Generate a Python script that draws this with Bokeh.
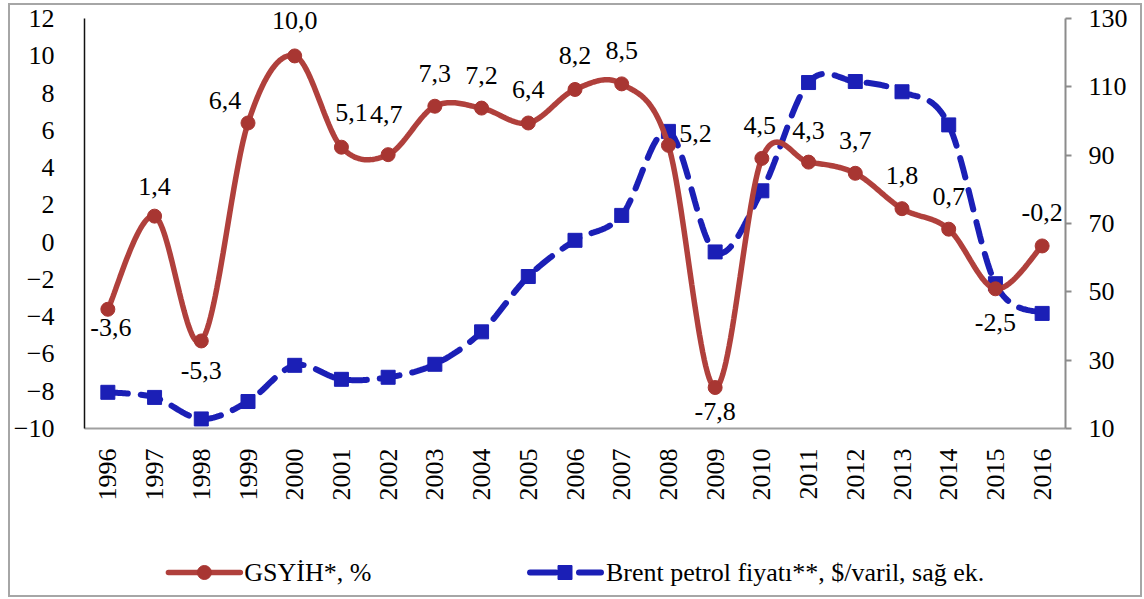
import numpy as np
from bokeh.plotting import figure
from bokeh.layouts import column
from bokeh.models import Range1d, LinearAxis, FixedTicker, ColumnDataSource
from bokeh.core.properties import value
from bokeh.embed import file_html
from bokeh.resources import INLINE

years = list(range(1996, 2017))
gdp = [-3.6, 1.4, -5.3, 6.4, 10.0, 5.1, 4.7, 7.3, 7.2, 6.4, 8.2, 8.5, 5.2, -7.8, 4.5, 4.3, 3.7, 1.8, 0.7, -2.5, -0.2]
brent = [20.6, 19.1, 12.8, 17.9, 28.5, 24.4, 25.0, 28.8, 38.3, 54.5, 65.1, 72.4, 97.0, 61.7, 79.6, 111.3, 111.6, 108.6, 98.9, 52.4, 43.7]
left_ticks = list(range(-10, 13, 2))
right_ticks = list(range(10, 131, 20))
gdp_name = "GSYİH*, %"
brent_name = "Brent petrol fiyatı**, $/varil, sağ ek."

# label offsets (screen px) for the data labels
lab_dx = [3, 0, 0, -23, 0, 10, -2, 0, 0, 0, 0, 0, 27, 0, -2, 0, 0, 0, 0, 0, 0]
lab_dy = [18, -30, 30, -22, -35, -35, -40, -33, -33, -33, -34, -33, -12, 24, -33, -32, -33, -33, -33, 34, -33]

RED = "#B0403C"
RED_M = "#A83632"
BLUE = "#1B1FB6"
FONT = "Liberation Serif"
FS = "26px"

# visible span of the axes and a small headroom so top labels are not clipped
L_LO, L_HI, L_TOP = -10, 12, 12.6
R_LO, R_HI = 10, 130
R_TOP = R_HI + (L_TOP - L_HI) * (R_HI - R_LO) / (L_HI - L_LO)

W = 1130
BL, BR = 73, 75


def smooth(xs, ys, n=30):
    xs = np.asarray(xs, float)
    ys = np.asarray(ys, float)
    m = len(xs)
    ox, oy = [], []
    for i in range(m - 1):
        i0 = max(i - 1, 0)
        i3 = min(i + 2, m - 1)
        p0 = np.array([xs[i0], ys[i0]])
        p1 = np.array([xs[i], ys[i]])
        p2 = np.array([xs[i + 1], ys[i + 1]])
        p3 = np.array([xs[i3], ys[i3]])
        c1 = p1 + (p2 - p0) / 6.0
        c2 = p2 - (p3 - p1) / 6.0
        t = np.linspace(0, 1, n, endpoint=(i == m - 2))
        b = ((1 - t) ** 3)[:, None] * p1 + (3 * (1 - t) ** 2 * t)[:, None] * c1 \
            + (3 * (1 - t) * t ** 2)[:, None] * c2 + (t ** 3)[:, None] * p2
        ox.extend(b[:, 0])
        oy.extend(b[:, 1])
    return ox, oy


p = figure(width=W, height=498, output_backend="svg", toolbar_location=None,
           x_range=Range1d(1995.5, 2016.5), y_range=Range1d(L_LO, L_TOP),
           min_border_left=BL, min_border_right=BR, min_border_top=2, min_border_bottom=75)
p.extra_y_ranges = {"right": Range1d(R_LO, R_TOP)}
p.outline_line_color = None
p.xgrid.visible = False
p.ygrid.visible = False
p.background_fill_color = "white"
p.border_fill_color = "white"

# axes
xa = p.xaxis[0]
xa.ticker = FixedTicker(ticks=years)
xa.major_label_orientation = np.pi / 2
xa.major_tick_line_color = None
xa.minor_tick_line_color = None
xa.axis_line_color = "#A0A0A0"
xa.axis_line_width = 2
xa.major_label_standoff = 14
xa.major_label_text_font = FONT
xa.major_label_text_font_size = FS
xa.major_label_text_color = "black"

ya = p.yaxis[0]
ya.bounds = (L_LO, L_HI)
ya.ticker = FixedTicker(ticks=left_ticks)
ya.major_tick_line_color = None
ya.minor_tick_line_color = None
ya.axis_line_color = "#111111"
ya.axis_line_width = 1.5
ya.major_label_standoff = 24
ya.major_label_text_font = FONT
ya.major_label_text_font_size = FS
ya.major_label_text_color = "black"

ra = LinearAxis(y_range_name="right", ticker=FixedTicker(ticks=right_ticks), bounds=(R_LO, R_HI))
ra.axis_line_color = "#8C8C8C"
ra.axis_line_width = 2
ra.major_tick_line_color = "#8C8C8C"
ra.major_tick_line_width = 2
ra.major_tick_out = 6
ra.major_tick_in = 0
ra.minor_tick_line_color = None
ra.major_label_standoff = 17
ra.major_label_text_font = FONT
ra.major_label_text_font_size = FS
ra.major_label_text_color = "black"
p.add_layout(ra, "right")

# brent series (right axis)
bx, by = smooth(years, brent)
p.line(bx, by, y_range_name="right", line_color=BLUE, line_width=6,
       line_dash="20 13", line_cap="round")
p.scatter(years, brent, y_range_name="right", marker="square", size=14,
          fill_color=BLUE, line_color=BLUE)

# gdp series
gx, gy = smooth(years, gdp)
p.line(gx, gy, line_color=RED, line_width=5.5, line_cap="round")
p.scatter(years, gdp, marker="circle", size=14, fill_color=RED_M, line_color=RED_M)

labels = [f"{v:.1f}".replace(".", ",") for v in gdp]
src = ColumnDataSource(dict(x=years, y=gdp, t=labels, dx=lab_dx, dy=lab_dy))
p.text(x="x", y="y", text="t", x_offset="dx", y_offset="dy", source=src,
       text_align="center", text_baseline="middle", text_color="black",
       text_font=value(FONT), text_font_size=FS)

# legend strip (pixel coordinates; its frame is aligned with the chart frame)
q = figure(width=W, height=92, output_backend="svg", toolbar_location=None,
           x_range=Range1d(BL, W - BR), y_range=Range1d(0, 92),
           x_axis_location=None, y_axis_location=None,
           min_border_left=BL, min_border_right=BR, min_border_top=0, min_border_bottom=0)
q.xgrid.visible = False
q.ygrid.visible = False
q.outline_line_color = None
q.border_fill_color = "white"
LY = 23
# GSYİH entry
q.line([157, 229], [LY, LY], line_color=RED, line_width=5.5, line_cap="round")
q.scatter([193], [LY], marker="circle", size=14, fill_color=RED_M, line_color=RED_M)
q.text([233], [LY], text=[gdp_name], text_align="left", text_baseline="middle",
       text_font=value(FONT), text_font_size=FS, text_color="black")
# Brent entry
q.line([519, 545], [LY, LY], line_color=BLUE, line_width=6, line_cap="round")
q.line([568, 590], [LY, LY], line_color=BLUE, line_width=6, line_cap="round")
q.scatter([554], [LY], marker="square", size=14, fill_color=BLUE, line_color=BLUE)
q.text([595], [LY], text=[brent_name], text_align="left", text_baseline="middle",
       text_font=value(FONT), text_font_size=FS, text_color="black")

lay = column(p, q, spacing=0,
             styles={"border": "2px solid #A6A6A6", "margin-left": "8px", "margin-top": "3px"})

open("out.html", "w").write(file_html(lay, INLINE))
